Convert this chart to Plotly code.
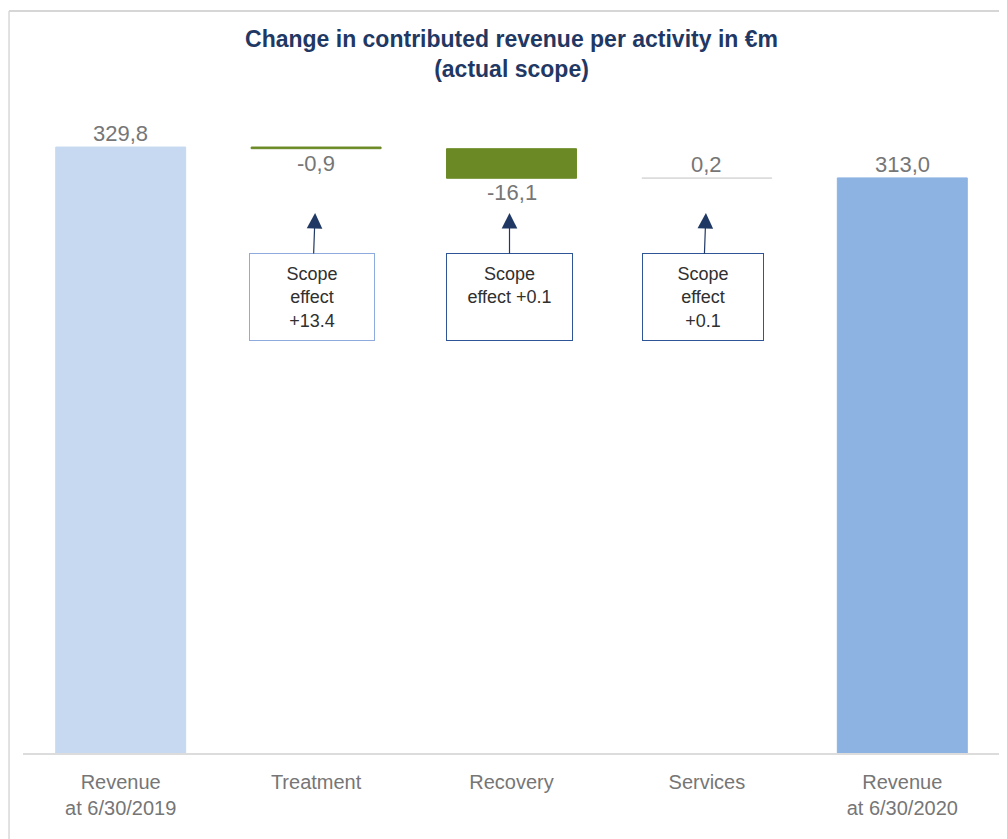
import plotly.graph_objects as go

# waterfall values in €m
CATEGORIES = ["Revenue<br>at 6/30/2019", "Treatment", "Recovery", "Services", "Revenue<br>at 6/30/2020"]
START_REVENUE = 329.8
ACTIVITY_CHANGES = [-0.9, -16.1, 0.2]
END_REVENUE = 313.0

SCOPE_NOTES = ["Scope<br>effect<br>+13.4", "Scope<br>effect +0.1", "Scope<br>effect<br>+0.1"]

COLORS = {"start": "#c6d9f0", "down": "#6b8a26", "up": "#d9d9d9", "end": "#8db3e2"}
LABEL_GREY = "#767676"
NAVY = "#1f3864"
FONT = "Liberation Sans, Arial, sans-serif"


def fmt(v):
    # european decimal comma
    return f"{v:.1f}".replace(".", ",")


# build bar bases / heights from the running total
bases, heights, colors, labels = [0], [START_REVENUE], [COLORS["start"]], [fmt(START_REVENUE)]
label_y, label_anchor = [START_REVENUE], ["bottom"]
running = START_REVENUE
for d in ACTIVITY_CHANGES:
    lo, hi = min(running, running + d), max(running, running + d)
    bases.append(lo)
    heights.append(abs(d))
    colors.append(COLORS["down"] if d < 0 else COLORS["up"])
    labels.append(fmt(d))
    label_y.append(lo if d < 0 else hi)
    label_anchor.append("top" if d < 0 else "bottom")
    running += d
bases.append(0)
heights.append(END_REVENUE)
colors.append(COLORS["end"])
labels.append(fmt(END_REVENUE))
label_y.append(END_REVENUE)
label_anchor.append("bottom")

fig = go.Figure(go.Bar(
    x=CATEGORIES,
    y=heights,
    base=bases,
    marker=dict(color=colors, line=dict(color=colors, width=1)),
    hoverinfo="skip",
))

# value labels
for cat, yv, anc, txt in zip(CATEGORIES, label_y, label_anchor, labels):
    fig.add_annotation(
        x=cat, y=yv, xref="x", yref="y", text=txt, showarrow=False,
        yanchor=anc, yshift=-1 if anc == "bottom" else 0,
        font=dict(family=FONT, size=22, color=LABEL_GREY),
    )

# scope effect call-outs with arrows
box_borders = ["#8faadc", "#2f5597", "#2f5597"]
box_widths = [104, 105, 100]
tip_dx = [-1, -2, -1]
box_dx = [-3, 0, -3]
for cat, note, bc, bw, tx, bx in zip(CATEGORIES[1:4], SCOPE_NOTES, box_borders, box_widths, tip_dx, box_dx):
    fig.add_annotation(
        x=cat, y=0.827, xref="x", yref="paper",
        text=note, showarrow=True,
        ax=bx, ay=84, xshift=tx,
        arrowhead=2, arrowsize=2.6, arrowwidth=1.2, arrowcolor=NAVY,
        width=bw, height=66, borderpad=10, valign="top", align="center",
        bordercolor=bc, borderwidth=1, bgcolor="white",
        font=dict(family=FONT, size=18, color="#303030"),
    )

# thin frame around the slide (top and left)
fig.add_shape(type="line", xref="paper", yref="paper", x0=-0.0143, x1=1.02, y0=1.1363, y1=1.1363,
              line=dict(color="#c8c8c8", width=1.5))
fig.add_shape(type="line", xref="paper", yref="paper", x0=-0.0143, x1=-0.0143, y0=1.1363, y1=-0.16,
              line=dict(color="#d8d8d8", width=1.5))

fig.update_layout(
    width=1007, height=839,
    title=dict(
        text="<b>Change in contributed revenue per activity in €m</b><br><b>(actual scope)</b>",
        x=0.5, xref="paper", y=0.953, yref="container", yanchor="top",
        font=dict(family=FONT, size=23, color=NAVY),
    ),
    # page body adds 8px, so margins are offset to keep the plot area in place
    margin=dict(l=15, r=15, t=92, b=94),
    bargap=0.335,
    showlegend=False,
    plot_bgcolor="white", paper_bgcolor="white",
    font=dict(family=FONT),
)
fig.update_xaxes(
    showline=True, linecolor="#dcdcdc", linewidth=2, showgrid=False, ticks="",
    ticklabelstandoff=10,
    tickfont=dict(family=FONT, size=20, color=LABEL_GREY),
)
fig.update_yaxes(visible=False, range=[0, 355.4], showgrid=False, zeroline=False)

fig.write_html("out.html")
